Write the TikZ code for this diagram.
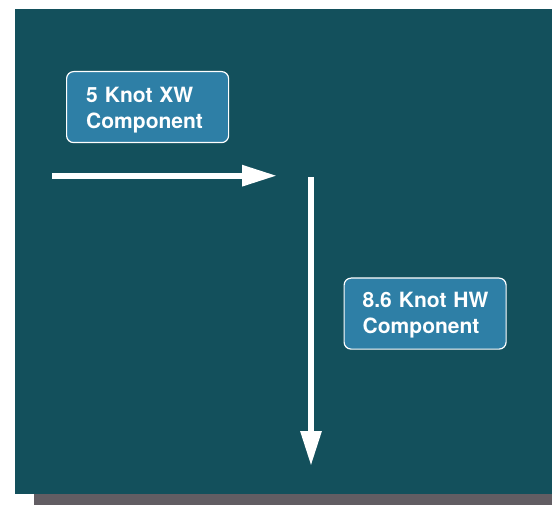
\documentclass[tikz,border=0pt]{standalone}
\usepackage{fontspec}
\setmainfont{TeX Gyre Heros}
\usetikzlibrary{arrows.meta,calc}
\definecolor{bgteal}{HTML}{13505C}
\definecolor{shadowgray}{HTML}{625D63}
\definecolor{boxblue}{HTML}{2E7FA6}
\tikzset{
  labelbox/.style={rectangle, rounded corners=7pt, draw=white, line width=1.2pt,
    fill=boxblue, minimum width=162pt, minimum height=71pt, anchor=north west},
  boxtext/.style={text=white, font=\bfseries\fontsize{21}{25.6}\selectfont,
    align=left, text width=140pt, inner sep=0pt, anchor=base west},
  bigarrow/.style={draw=white, line width=6pt,
    -{Triangle[length=35pt, width=20pt]}}
}
\begin{document}
\begin{tikzpicture}[x=1pt, y=-1pt]
  \useasboundingbox (0,0) rectangle (552,505);
  \fill[shadowgray] (34,494) rectangle (552,505);
  \fill[bgteal] (15,9) rectangle (552,494);
  \node[labelbox] (xw) at (66,71) {};
  \node[boxtext] (xwt) at ($(xw.north west)+(20,31.7)$) {5 Knot XW\\Component};
  \node[labelbox] (hw) at (343.5,277.5) {};
  \node[boxtext] (hwt) at ($(hw.north west)+(19,30.5)$) {8.6 Knot HW\\Component};
  \coordinate (a1s) at (52,175.7);
  \coordinate (a1e) at (277,175.7);
  \coordinate (a2s) at (311,177);
  \coordinate (a2e) at (311,466);
  \draw[bigarrow] (a1s) -- (a1e);
  \draw[bigarrow] (a2s) -- (a2e);
\end{tikzpicture}
\end{document}
